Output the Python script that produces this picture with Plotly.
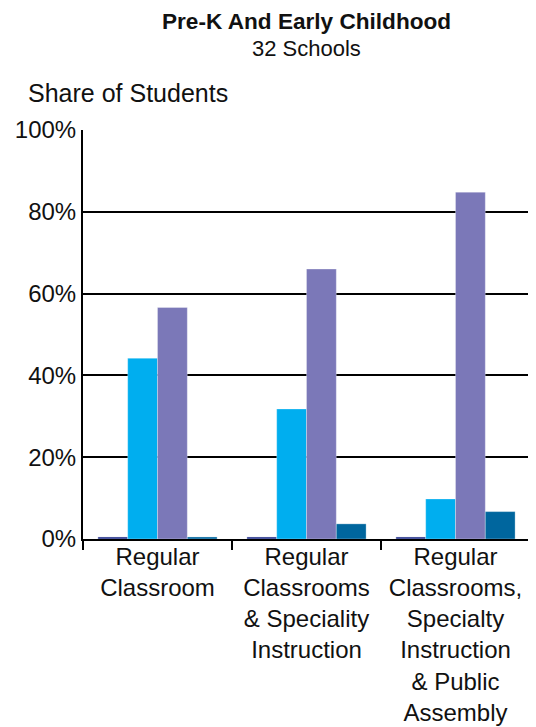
import plotly.graph_objects as go

categories = [
    "Regular<br>Classroom",
    "Regular<br>Classrooms<br>& Speciality<br>Instruction",
    "Regular<br>Classrooms,<br>Specialty<br>Instruction<br>& Public<br>Assembly",
]
series_names = ["Series 1", "Series 2", "Series 3", "Series 4"]
series_1 = [0.5, 0.5, 0.5]
series_2 = [44.2, 31.8, 9.8]
series_3 = [56.6, 66.0, 84.8]
series_4 = [0.5, 3.7, 6.7]
colors = ["#2B3990", "#00AEEF", "#7B78B8", "#00669E"]
y_tick_vals = [0, 20, 40, 60, 80, 100]
y_tick_text = ["0%", "20%", "40%", "60%", "80%", "100%"]

FONT = "Liberation Sans, Arial, sans-serif"
TXT = "#111111"

fig = go.Figure()
for name, vals, col in zip(series_names, [series_1, series_2, series_3, series_4], colors):
    fig.add_trace(go.Bar(
        x=categories, y=vals, name=name,
        marker=dict(color=col, line=dict(color="rgba(255,255,255,0.6)", width=0.5)),
    ))

fig.update_layout(
    width=528, height=719,
    margin=dict(l=75, r=6, t=122, b=188),
    paper_bgcolor="white", plot_bgcolor="white",
    barmode="group", bargap=0.2, bargroupgap=0,
    showlegend=False,
    font=dict(family=FONT, size=22, color=TXT),
    xaxis=dict(
        automargin=False,
        showline=True, linecolor="black", linewidth=2,
        ticks="outside", tickson="boundaries", ticklen=9, tickwidth=2, tickcolor="black",
        ticklabelstandoff=-5,
        tickfont=dict(family=FONT, size=24, color=TXT),
        showgrid=False,
    ),
    yaxis=dict(
        automargin=False,
        range=[0, 100], tickmode="array", tickvals=y_tick_vals, ticktext=y_tick_text,
        showline=True, linecolor="black", linewidth=2,
        showgrid=True, gridcolor="black", gridwidth=2,
        zeroline=False,
        tickfont=dict(family=FONT, size=24, color=TXT),
    ),
    annotations=[
        dict(text="<b>Pre-K And Early Childhood</b>", xref="paper", yref="paper",
             x=0.5, y=1, xanchor="center", yanchor="top", yshift=122, borderpad=0,
             showarrow=False, font=dict(family=FONT, size=22.6, color=TXT)),
        dict(text="32 Schools", xref="paper", yref="paper",
             x=0.5, y=1, xanchor="center", yanchor="middle", yshift=82,
             showarrow=False, font=dict(family=FONT, size=22, color=TXT)),
        dict(text="Share of Students", xref="paper", yref="paper",
             x=-0.127, y=1, xanchor="left", yanchor="middle", yshift=37,
             showarrow=False, font=dict(family=FONT, size=25, color=TXT)),
    ],
)

fig.write_html("out.html")
